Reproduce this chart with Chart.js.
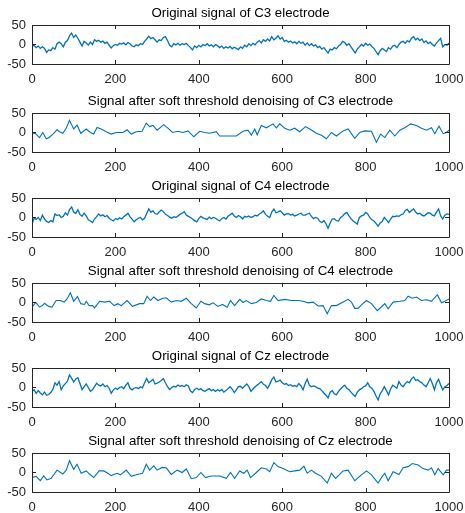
<!DOCTYPE html>
<html>
<head>
<meta charset="utf-8">
<script src="https://cdn.jsdelivr.net/npm/chart.js@4/dist/chart.umd.min.js"></script>
<style>
  html, body { margin: 0; padding: 0; background: #fff; }
  body { width: 465px; height: 513px; position: relative; overflow: hidden; }
  canvas { position: absolute; left: 0; }
</style>
</head>
<body>
<canvas id="p0"></canvas>
<canvas id="p1"></canvas>
<canvas id="p2"></canvas>
<canvas id="p3"></canvas>
<canvas id="p4"></canvas>
<canvas id="p5"></canvas>
<script>
const xTicks = [0, 200, 400, 600, 800, 1000];
const yTicks = [-50, 0, 50];
const titles = [
  "Original signal of C3 electrode",
  "Signal after soft threshold denoising of C3 electrode",
  "Original signal of C4 electrode",
  "Signal after soft threshold denoising of C4 electrode",
  "Original signal of Cz electrode",
  "Signal after soft threshold denoising of Cz electrode"
];

// original signals, one value every 5 samples
const origStep = 5;
const origC3 = [
  -5,-2,-8,-4,-10,-6,-10,-20,-14,-16,
  -8,-12,2,6,2,-6,6,10,22,29,
  18,24,16,6,-4,8,4,-2,6,0,
  12,8,11,6,9,3,6,-2,-9,-3,
  0,-2,3,1,4,-1,5,2,-4,-6,
  -1,-3,2,0,8,14,21,15,18,12,
  6,12,10,18,20,10,-2,-6,2,-1,
  3,-2,2,0,3,-3,-8,-14,-4,-8,
  -2,-6,0,-3,2,-4,-1,-6,0,-3,
  -8,-4,-10,-6,-9,-5,-11,-7,-10,-13,
  -6,-10,-2,-6,2,-3,3,-1,6,10,
  4,12,8,14,9,20,12,16,22,14,
  18,8,11,6,9,4,7,2,8,3,
  6,-2,4,-3,2,-4,-1,-8,-5,-12,
  -8,-15,-22,-12,-14,-8,-11,-4,0,8,
  5,-2,2,-6,-14,-22,-12,-6,0,-4,
  3,-2,1,-5,-10,-18,-26,-16,-10,-14,
  -18,-8,-12,-4,-2,-8,0,6,8,3,
  10,6,16,20,12,16,10,14,5,9,
  2,6,0,-4,4,10,16,-6,0,-2,
  4
];
const origC4 = [
  -17,-2,-5,0,-8,6,-4,-10,-13,-8,
  -11,9,5,7,0,3,12,6,20,27,
  14,10,20,8,3,11,4,-6,-9,-13,
  -4,2,9,4,7,2,5,-2,-6,-9,
  -3,-5,-1,-4,2,6,11,2,-4,-11,
  -6,-2,0,-6,-2,10,22,14,17,10,
  8,14,19,15,8,5,1,-2,2,0,
  4,8,11,15,6,3,0,-4,-8,-11,
  -3,3,-1,-3,-5,1,-3,0,-2,-6,
  -9,-3,0,-4,3,7,11,4,0,5,
  2,-4,3,1,4,0,2,6,4,9,
  12,17,8,3,0,14,22,12,14,17,
  12,6,9,10,6,8,4,6,9,11,
  6,6,9,11,3,-3,0,-2,-10,-13,
  -8,-16,-28,-14,-4,-3,-8,-9,0,4,
  10,13,4,-3,-9,-13,-17,0,4,6,
  13,9,0,-6,-9,-15,-22,-14,-10,0,
  -6,-13,-4,3,2,4,3,7,9,18,
  21,13,18,22,14,9,11,6,4,8,
  12,11,6,4,14,22,4,-4,6,9,
  8
];
const origCz = [
  -10,-6,-15,-8,-14,-19,-12,-20,-18,-13,
  -5,12,6,15,-6,4,10,16,32,24,
  14,22,25,10,-6,2,9,0,-10,-6,
  2,11,6,4,9,2,5,-2,-15,-6,
  -2,-5,0,2,-3,6,12,-2,-6,-2,
  0,-3,2,-1,12,23,12,16,21,9,
  11,14,18,23,12,2,-5,0,3,1,
  6,3,5,2,7,4,-9,-13,-5,-2,
  -6,-3,-8,-10,-6,-3,-8,-5,-10,-6,
  -9,-5,-12,-8,-3,2,-4,-13,-6,2,
  3,-2,4,9,2,-10,-4,2,6,10,
  15,8,5,-2,8,20,27,14,16,19,
  12,8,10,5,7,3,5,2,10,4,
  -6,10,21,6,2,4,2,-2,-3,-8,
  -14,-20,-27,-12,-8,-16,-19,-10,-4,2,
  6,-2,-6,-12,-18,-23,-12,-6,-3,2,
  4,12,2,-2,-10,-22,-32,-16,-8,2,
  -8,-19,-4,6,2,-2,15,6,2,10,
  15,12,22,27,18,20,15,12,6,2,
  12,23,10,-6,12,21,6,-6,2,5,
  10
];

// denoised signals, read at their turning points
const softC3X = [0,8,18,26,34,42,50,60,66,74,82,90,100,108,117,130,140,148,156,166,178,190,202,218,228,238,250,264,274,282,290,300,316,326,337,350,362,374,388,402,414,426,442,450,466,482,490,506,518,526,534,540,550,562,578,586,594,606,618,630,642,656,666,682,694,706,718,730,746,758,774,786,798,814,826,836,846,858,870,882,894,908,922,934,946,958,966,976,986,994,1000];
const softC3Y = [-4,-2,-13,0,-16,-12,-4,7,2,-2,11,31,9,19,-2,9,0,-4,13,9,2,-4,0,0,7,-4,2,3,24,15,18,6,20,11,0,3,0,4,-11,3,0,-2,2,-9,-9,-9,-9,3,6,-7,9,-6,18,12,22,12,22,11,6,11,2,15,9,-2,-7,-16,0,-9,4,9,-15,0,4,3,-25,-4,-13,6,-9,6,12,22,18,11,6,12,-3,16,-3,0,6];
const softC4X = [0,9,18,25,30,40,48,58,68,77,84,92,100,109,117,126,130,137,145,150,162,174,186,197,206,214,228,241,258,268,276,284,292,302,314,322,334,346,358,370,382,394,405,414,425,434,446,457,468,476,486,498,506,514,526,538,550,562,572,580,590,606,622,638,650,662,674,686,698,708,718,730,746,758,766,774,782,790,802,814,828,840,846,854,866,882,894,902,912,922,934,946,958,972,982,990,1000];
const softC4Y = [-12,0,-12,-8,-2,-10,-12,5,5,1,9,25,3,15,-3,-5,3,-8,-8,-14,3,1,3,-8,-3,-8,5,-10,-3,-3,16,5,14,5,11,12,1,5,3,11,-3,-14,3,-3,-6,-1,-10,-5,-12,5,-8,8,0,5,-3,0,9,5,3,18,5,8,5,5,3,-1,1,-9,-8,-29,-8,-8,1,8,1,-15,-15,-6,5,-3,-21,-9,-3,-16,1,3,5,16,11,14,5,7,3,20,-1,3,9];
const softCzX = [0,10,20,28,36,46,60,74,82,90,100,108,118,130,138,148,161,172,182,190,204,212,226,238,250,265,274,282,292,300,312,322,334,348,360,370,382,394,405,416,430,450,466,476,486,498,508,516,524,536,550,562,570,580,590,602,618,630,642,652,660,670,680,694,708,718,728,746,758,774,790,802,814,830,840,846,854,866,880,890,902,912,926,938,950,958,966,974,986,994,1000];
const softCzY = [-13,-10,-21,-9,-19,-15,6,-4,6,30,8,21,-2,4,-4,-13,4,4,-2,-8,-2,-6,6,-10,-6,-2,21,6,17,6,13,12,-5,6,0,9,-16,-13,0,-13,-9,-9,-15,0,-15,4,-2,6,-13,-2,12,9,2,25,15,10,2,4,6,16,-2,6,-2,-10,-27,-2,-15,4,6,-21,-6,4,-6,-27,-10,-2,-21,2,-5,12,15,23,19,10,6,12,-6,10,-6,6,6];

const boxTops = [25, 112.5, 197.5, 282.5, 367.5, 452.5];
const boxH = 39;
const FONT = "'Liberation Sans', Arial, Helvetica, sans-serif";
const AXIS = "#262626";

function origPoints(vals) {
  return vals.map((v, i) => ({ x: i * origStep, y: v }));
}
function softPoints(xs, ys) {
  return xs.map((x, i) => ({ x: x, y: ys[i] }));
}

// box round the plot area with inward ticks, like matlab axes
const matlabBox = {
  id: "matlabBox",
  afterDatasetsDraw(chart) {
    const { ctx, chartArea: a, scales } = chart;
    const len = 4;
    ctx.save();
    ctx.strokeStyle = AXIS;
    ctx.lineWidth = 1;
    ctx.beginPath();
    ctx.rect(Math.round(a.left) + 0.5, Math.round(a.top) + 0.5,
             Math.round(a.right) - Math.round(a.left), Math.round(a.bottom) - Math.round(a.top));
    xTicks.forEach(v => {
      const px = Math.round(scales.x.getPixelForValue(v)) + 0.5;
      ctx.moveTo(px, a.bottom); ctx.lineTo(px, a.bottom - len);
      ctx.moveTo(px, a.top); ctx.lineTo(px, a.top + len);
    });
    yTicks.forEach(v => {
      const py = Math.round(scales.y.getPixelForValue(v)) + 0.5;
      ctx.moveTo(a.left, py); ctx.lineTo(a.left + len, py);
      ctx.moveTo(a.right, py); ctx.lineTo(a.right - len, py);
    });
    ctx.stroke();
    ctx.restore();
  }
};

const series = [
  origPoints(origC3),
  softPoints(softC3X, softC3Y),
  origPoints(origC4),
  softPoints(softC4X, softC4Y),
  origPoints(origCz),
  softPoints(softCzX, softCzY)
];

series.forEach((pts, i) => {
  const cv = document.getElementById("p" + i);
  cv.width = 465;
  cv.height = 24 + boxH + 26;
  cv.style.top = (boxTops[i] - 24) + "px";
  new Chart(cv, {
    type: "line",
    data: {
      datasets: [{
        data: pts,
        borderColor: "#0072BD",
        borderWidth: i % 2 === 0 ? 1.3 : 1.1,
        pointRadius: 0,
        tension: 0,
        fill: false
      }]
    },
    options: {
      responsive: false,
      animation: false,
      devicePixelRatio: 1,
      layout: { padding: { left: 0, right: 16, top: 0, bottom: 0 } },
      plugins: {
        legend: { display: false },
        tooltip: { enabled: false },
        title: {
          display: true,
          fullSize: false,
          text: titles[i],
          color: "#000",
          font: { family: FONT, size: 13.3, weight: "normal", lineHeight: 1.2 },
          padding: { top: 4, bottom: 4 }
        }
      },
      scales: {
        x: {
          type: "linear",
          min: 0,
          max: 1000,
          grid: { display: false, drawTicks: false },
          border: { display: false },
          afterBuildTicks: s => { s.ticks = xTicks.map(v => ({ value: v })); },
          afterFit: s => { s.height = 26; s.paddingRight = 0; s.paddingLeft = 0; },
          ticks: { padding: 8, color: AXIS, maxRotation: 0, autoSkip: false,
                   callback: v => String(v),
                   font: { family: FONT, size: 13 } }
        },
        y: {
          min: -50,
          max: 50,
          grid: { display: false, drawTicks: false },
          border: { display: false },
          afterBuildTicks: s => { s.ticks = yTicks.map(v => ({ value: v })); },
          afterFit: s => { s.width = 32; s.paddingTop = 0; s.paddingBottom = 0; },
          ticks: { padding: 6, color: AXIS, callback: v => String(v),
                   font: { family: FONT, size: 13 } }
        }
      }
    },
    plugins: [matlabBox]
  });
});
</script>
</body>
</html>
